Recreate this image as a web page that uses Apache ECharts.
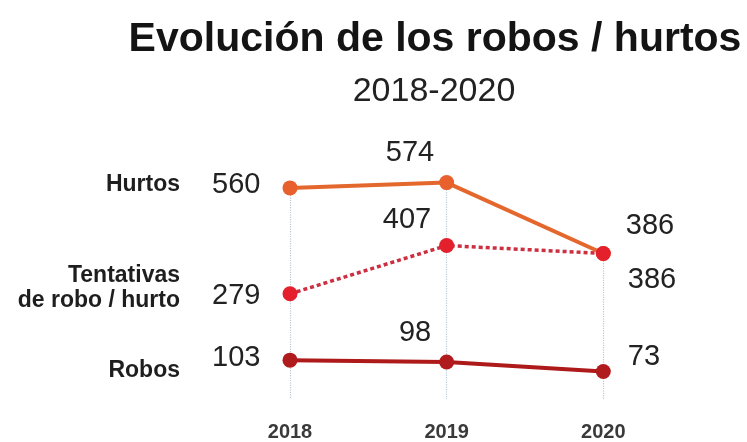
<!DOCTYPE html>
<html>
<head>
<meta charset="utf-8">
<script src="https://cdn.jsdelivr.net/npm/echarts@6/dist/echarts.min.js"></script>
<style>
html,body{margin:0;padding:0;background:#fff;}
#c{width:747px;height:442px;}
</style>
</head>
<body>
<div id="c"></div>
<script>
// ---- data ----
const years = ['2018', '2019', '2020'];
const hurtos = [560, 574, 386];
const tentativas = [279, 407, 386];
const robos = [103, 98, 73];
const seriesNames = ['Hurtos', 'Tentativas\nde robo / hurto', 'Robos'];
const titleText = 'Evolución de los robos / hurtos';
const subtitleText = '2018-2020';

const FONT = '"Liberation Sans", Arial, Helvetica, sans-serif';

// label placement per point: [position, offsetX, offsetY]
const hurtosLbl = [['left', -22, -3], ['left', -5, -30], ['right', 15, -27]];
const tentLbl   = [['left', -22, 2],  ['left', -8, -26], ['right', 17, 27]];
const robosLbl  = [['left', -22, -2], ['left', -8, -29], ['right', 17, -14]];

function buildData(vals, lbl) {
  return vals.map((v, i) => ({
    value: v,
    label: {
      show: true,
      position: lbl[i][0],
      distance: 0,
      offset: [lbl[i][1], lbl[i][2]],
      fontSize: 29,
      fontFamily: FONT,
      color: '#222'
    }
  }));
}

const chart = echarts.init(document.getElementById('c'), null, {renderer: 'canvas'});

const option = {
  backgroundColor: '#fff',
  animation: false,
  title: [
    {text: titleText, left: 430, top: 14, textAlign: 'center',
     textStyle: {fontSize: 41, fontWeight: 'bold', color: '#141414', fontFamily: FONT}},
    {text: subtitleText, left: 429, top: 70, textAlign: 'center',
     textStyle: {fontSize: 34, fontWeight: 'normal', color: '#222', fontFamily: FONT}}
  ],
  grid: {left: 290, right: 143.7, top: 172.8, bottom: 37.2, containLabel: false},
  xAxis: {
    type: 'category',
    data: years,
    boundaryGap: false,
    axisLine: {show: false},
    axisTick: {show: false},
    splitLine: {show: false},
    axisLabel: {fontSize: 20, fontWeight: 'bold', color: '#3a3a3a', fontFamily: FONT, margin: 23}
  },
  yAxis: {
    type: 'value', min: 0, max: 600,
    show: false,
    splitLine: {show: false}
  },
  series: [
    {
      name: 'Hurtos', type: 'line', z: 3,
      data: buildData(hurtos, hurtosLbl),
      symbol: 'circle', symbolSize: 15,
      lineStyle: {color: '#E4682E', width: 4},
      itemStyle: {color: '#E8602C'},
      markLine: {
        silent: true, symbol: 'none', z: 1,
        label: {show: false},
        lineStyle: {type: 'dotted', color: '#b9c9d8', width: 1.2},
        data: hurtos.map((v, i) => [{xAxis: i, yAxis: v}, {xAxis: i, yAxis: 0}])
      }
    },
    {
      name: 'Tentativas', type: 'line', z: 4,
      data: buildData(tentativas, tentLbl),
      symbol: 'circle', symbolSize: 15,
      lineStyle: {color: '#CC3040', width: 3.5, type: [4, 3]},
      itemStyle: {color: '#E3202C'}
    },
    {
      name: 'Robos', type: 'line', z: 3,
      data: buildData(robos, robosLbl),
      symbol: 'circle', symbolSize: 15,
      lineStyle: {color: '#AE1A1A', width: 4},
      itemStyle: {color: '#B01C1E'}
    }
  ]
};
chart.setOption(option);

// series name labels on the left, aligned to the first point of each series
const firsts = [hurtos[0], tentativas[0], robos[0]];
const nameDy = [-3, -6, 10];
const graphics = firsts.map((v, k) => {
  const p = chart.convertToPixel({gridIndex: 0}, [0, v]);
  return {
    type: 'text',
    x: 180, y: p[1] + nameDy[k],
    style: {
      text: seriesNames[k], align: 'right', verticalAlign: 'middle',
      font: 'bold 23px ' + FONT, fill: '#1e1e1e', lineHeight: 25
    }
  };
});
chart.setOption({graphic: graphics});
</script>
</body>
</html>
